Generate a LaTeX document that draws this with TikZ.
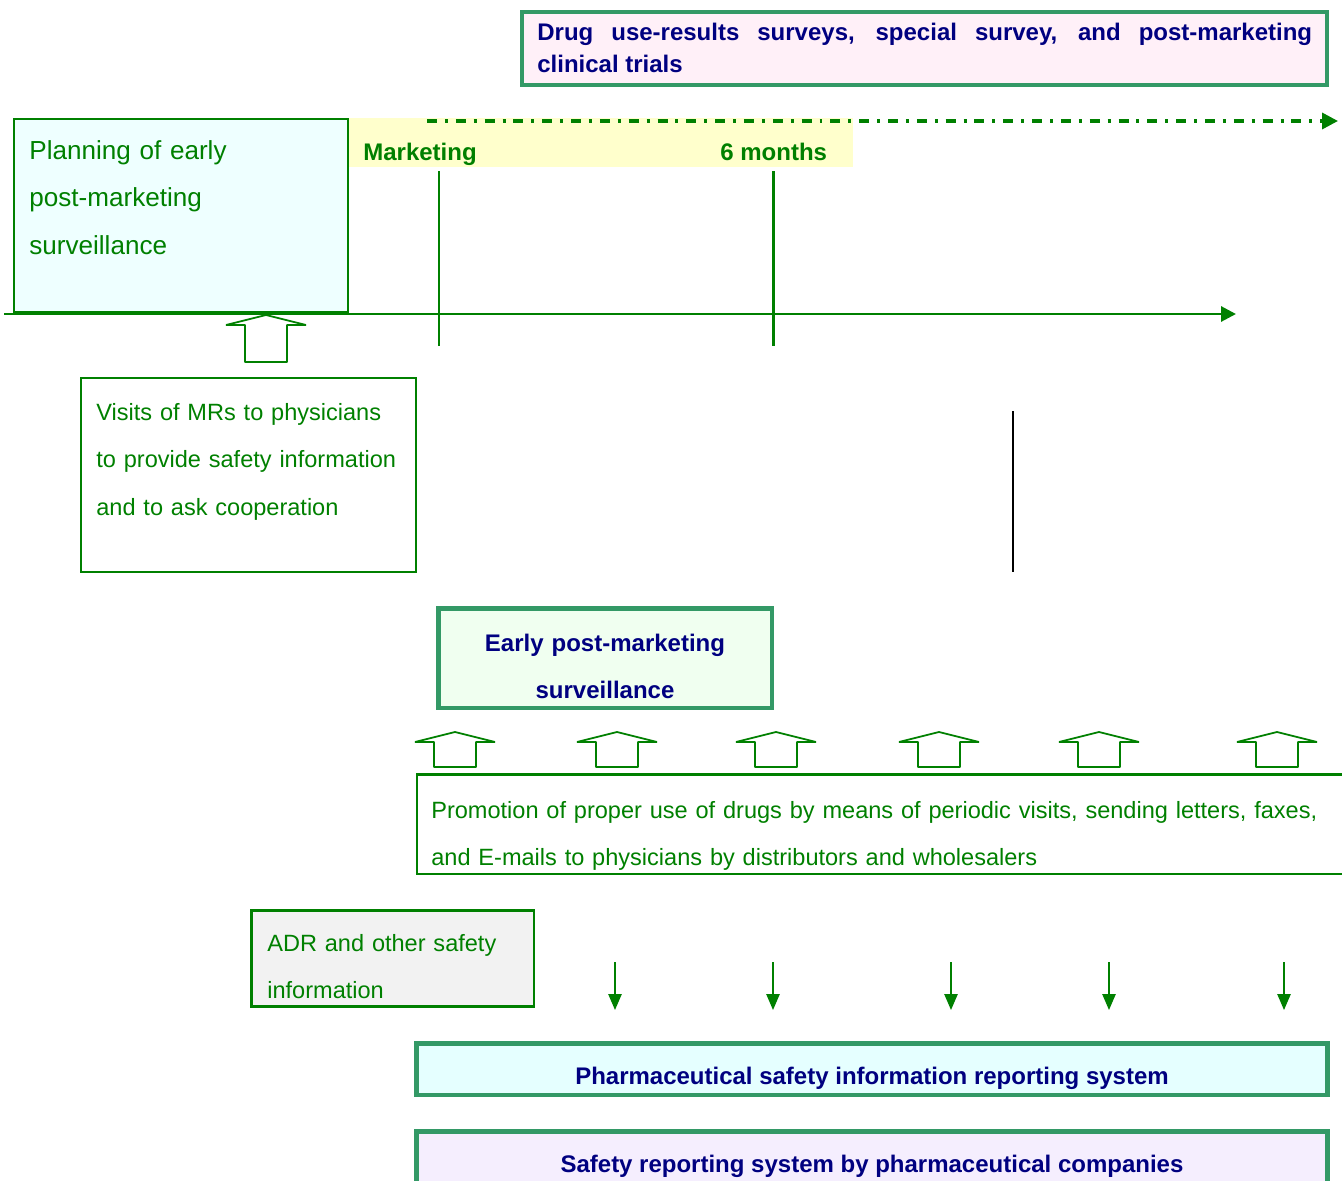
\documentclass[tikz,border=0pt]{standalone}
\usepackage{fontspec}
\setmainfont{Liberation Sans}
\usetikzlibrary{fit,arrows.meta}

\definecolor{tgreen}{HTML}{008000}
\definecolor{sgreen}{HTML}{339966}
\definecolor{navy}{HTML}{000080}
\definecolor{pinkfill}{HTML}{FFF0F8}
\definecolor{cyanfill}{HTML}{EEFFFF}
\definecolor{yelfill}{HTML}{FFFFCC}
\definecolor{mintfill}{HTML}{F0FFF0}
\definecolor{greyfill}{HTML}{F2F2F2}
\definecolor{iceblue}{HTML}{E5FFFF}
\definecolor{lilac}{HTML}{F5EEFE}

\newcommand\smalltext{\fontsize{13.4pt}{27.31pt}\selectfont}
\newcommand\boldtext{\fontsize{13.66pt}{27.31pt}\selectfont}
\newcommand\bigtext{\fontsize{14.85pt}{27.31pt}\selectfont}
\newcommand\toptext{\fontsize{13.66pt}{18.3pt}\selectfont}

\tikzset{
  pbox/.style={draw=tgreen, line width=1.3pt, inner sep=0pt},
  sbox/.style={draw=sgreen, line width=2.7pt, inner sep=0pt},
  gtext/.style={text=tgreen, font=\smalltext, inner sep=0pt, anchor=base west, align=left},
  btext/.style={text=navy, font=\bfseries\boldtext, inner sep=0pt},
  hollow/.style={draw=tgreen, line width=1pt, fill=white, line join=bevel},
  hollowup/.pic={\draw[hollow] (0,0) -- (40,10) -- (21,10) -- (21,#1) -- (-21,#1) -- (-21,10) -- (-40,10) -- cycle;},
  downarr/.style={draw=tgreen, line width=0.9pt, -{Triangle[length=9pt,width=7.5pt]}},
}

\begin{document}
\begin{tikzpicture}[x=0.02cm,y=-0.02cm]
\useasboundingbox (0,0) rectangle (1342,1180);
% top box
\node[sbox, fill=pinkfill, fit={(522,12) (1327,85)}] (drugbox) {};
\node[btext, font=\bfseries\toptext, anchor=base west, text width=15.5cm, align=justify] (drugtxt) at (537,40)
  {Drug use-results surveys, special survey, and post-marketing\linebreak clinical trials};
% time band
\node[fill=yelfill, inner sep=0pt, fit={(348,118) (853,167)}] (band) {};
\draw[tgreen, line width=2pt, dash pattern=on 5.7pt off 4.5pt on 1.7pt off 4.5pt,
  -{Triangle[length=9pt,width=9pt]}] (427,121) -- (1338,121);
\node[gtext, font=\bfseries\boldtext] (mkt) at (363,160) {Marketing};
\node[gtext, font=\bfseries\boldtext] (sixm) at (720,160) {6 months};
% planning
\node[pbox, line width=1pt, fill=cyanfill, fit={(14,119) (348,312)}] (plan) {};
\node[gtext, font=\bigtext, text width=6.4cm] (plantxt) at (29,159)
  {Planning of early\\post-marketing\\surveillance};
% time line
\draw[tgreen, line width=1.7pt, -{Triangle[length=8.5pt,width=8.5pt]}] (4,314) -- (1236,314);
\draw[tgreen, line width=1.7pt] (439,171) -- (439,346);
\draw[tgreen, line width=1.7pt] (773,171) -- (773,346);
\pic at (266,315) {hollowup=47};
% MR visits
\node[pbox, fit={(81,378) (416,572)}] (visits) {};
\node[gtext, text width=6.3cm] (visitstxt) at (96,420)
  {Visits of MRs to physicians\\to provide safety information\\and to ask cooperation};
\draw[black, line width=1.1pt] (1013,411) -- (1013,572);
% early post-marketing surveillance
\node[sbox, fill=mintfill, fit={(438.5,608.5) (772,708)}] (early) {};
\node[btext, anchor=base, text width=8cm, align=center] (earlytxt) at (605,651)
  {Early post-marketing\\surveillance};
\foreach \x in {455,617,776,939,1099,1277}
  \pic at (\x,732) {hollowup=35};
% promotion
\node[pbox, fit={(417,774.5) (1380,874)}] (promo) {};
\node[gtext, text width=19cm] (promotxt) at (431,818)
  {Promotion of proper use of drugs by means of periodic visits, sending letters, faxes,\\and E-mails to physicians by distributors and wholesalers};
% ADR
\node[pbox, fill=greyfill, fit={(251.5,910.5) (534,1006.5)}] (adr) {};
\node[gtext, text width=6cm] (adrtxt) at (267,951)
  {ADR and other safety\\information};
\foreach \x in {615,773,951,1109,1284}
  \draw[downarr] (\x,962) -- (\x,1010);
% reporting systems
\node[sbox, fill=iceblue, fit={(416.5,1043.5) (1327.5,1095)}] (pharm) {};
\node[btext, anchor=base] (pharmtxt) at (872,1084) {Pharmaceutical safety information reporting system};
\node[sbox, fill=lilac, fit={(416.5,1131.5) (1327.5,1230)}] (safety) {};
\node[btext, anchor=base] (safetytxt) at (872,1172) {Safety reporting system by pharmaceutical companies};
\end{tikzpicture}
\end{document}
